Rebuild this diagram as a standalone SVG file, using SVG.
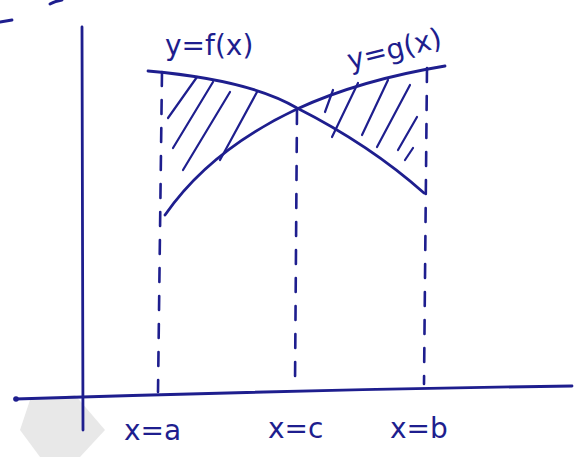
<svg xmlns="http://www.w3.org/2000/svg" width="582" height="457" viewBox="0 0 582 457">
<style>
.ink{fill:none;stroke:#1e1e8e;stroke-width:2.8;stroke-linecap:round;stroke-linejoin:round}
.dash{fill:none;stroke:#1e1e8e;stroke-width:2.6;stroke-linecap:round;stroke-dasharray:14 14}
.hatch{fill:none;stroke:#1e1e8e;stroke-width:2.2;stroke-linecap:round}
.lbl{font-family:"DejaVu Sans","Liberation Sans",sans-serif;fill:#1e1e8e;font-size:28px}
</style>
<rect width="582" height="457" fill="#ffffff"/>
<g id="watermark" opacity="0.35">
<path d="M30,400 L75,395 L105,430 L80,457 L40,457 L20,430 Z" fill="#bdbdbd"/>
</g>
<g id="fragments">
<path class="ink" d="M0,22 L12,20"/>
<path class="ink" d="M50,4 Q55,1 62,0"/>
</g>
<g id="axes">
<path class="ink" d="M82,27 L83,430"/>
<path class="ink" d="M15,399 Q300,390 572,386"/>
<circle cx="16" cy="399" r="2.8" fill="#1e1e8e"/>
</g>
<g id="verticals">
<path class="dash" d="M162,72 L158,392"/>
<path class="dash" d="M297,110 L295,386"/>
<path class="dash" d="M427,68 L424,384"/>
</g>
<g id="curve-f">
<path class="ink" d="M148,71 Q250,80 297,108 Q370,145 424,193"/>
</g>
<g id="curve-g">
<path class="ink" d="M165,215 Q210,150 297,109 Q360,80 445,66"/>
</g>
<g id="hatching">
<path class="hatch" d="M197,77 L168,118"/>
<path class="hatch" d="M213,82 L173,148"/>
<path class="hatch" d="M230,92 L183,170"/>
<path class="hatch" d="M257,92 L220,160"/>
<path class="hatch" d="M333,90 L325,112"/>
<path class="hatch" d="M358,83 L332,137"/>
<path class="hatch" d="M388,80 L362,135"/>
<path class="hatch" d="M410,85 L377,147"/>
<path class="hatch" d="M417,117 L398,150"/>
<path class="hatch" d="M413,148 L405,160"/>
</g>
<g id="labels">
<text class="lbl" x="165" y="55">y=f(x)</text>
<text class="lbl" x="350" y="70" transform="rotate(-14 350 70)">y=g(x)</text>
<text class="lbl" x="124" y="440" font-size="32">x=a</text>
<text class="lbl" x="268" y="438" font-size="32">x=c</text>
<text class="lbl" x="390" y="438" font-size="32">x=b</text>
</g>
</svg>
